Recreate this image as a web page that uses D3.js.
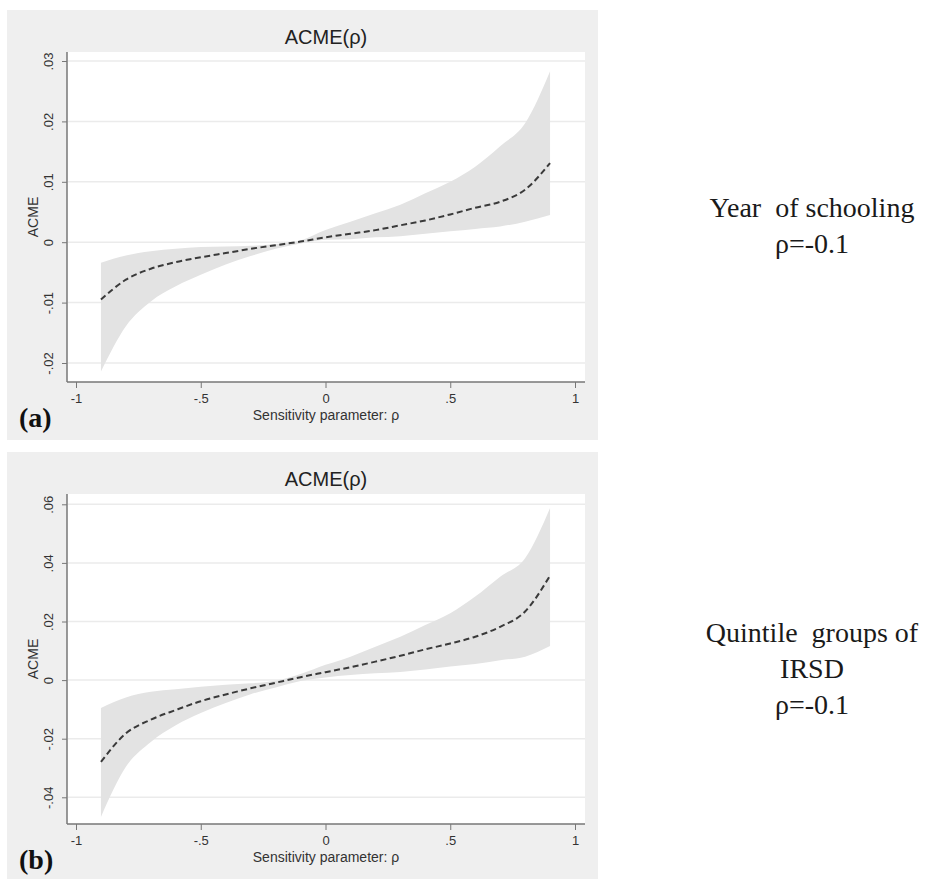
<!DOCTYPE html>
<html>
<head>
<meta charset="utf-8">
<script src="https://cdn.jsdelivr.net/npm/d3@7"></script>
<style>
  body { margin: 0; background: #fff; }
  svg { display: block; }
</style>
</head>
<body>
<svg id="chart" width="929" height="879"></svg>
<script>
// sensitivity parameter grid
const rho = [-0.9, -0.8, -0.7, -0.6, -0.5, -0.4, -0.3, -0.2, -0.1, 0, 0.1, 0.2, 0.3, 0.4, 0.5, 0.6, 0.7, 0.8, 0.9]
const xTicks = [-1, -0.5, 0, 0.5, 1]

// (a) year of schooling
const acmeA = [-0.0095, -0.0062, -0.0044, -0.0033, -0.0025, -0.0018, -0.0011, -0.0005, 0.0001, 0.0008, 0.0014, 0.0020, 0.0028, 0.0036, 0.0046, 0.0057, 0.0067, 0.0087, 0.0131]
const upperA = [-0.0034, -0.0022, -0.0015, -0.0011, -0.0008, -0.0007, -0.0006, -0.0003, 0.0003, 0.0020, 0.0034, 0.0048, 0.0062, 0.0081, 0.0100, 0.0125, 0.0159, 0.0197, 0.0283]
const lowerA = [-0.0214, -0.0139, -0.0098, -0.0073, -0.0054, -0.0037, -0.0023, -0.0011, -0.0002, 0.0004, 0.0005, 0.0008, 0.0010, 0.0014, 0.0018, 0.0022, 0.0026, 0.0034, 0.0045]
const yTicksA = [-0.02, -0.01, 0, 0.01, 0.02, 0.03]
const notesA = ['Year  of schooling', 'ρ=-0.1']

// (b) quintile groups of IRSD
const acmeB = [-0.0279, -0.0182, -0.0135, -0.0102, -0.0072, -0.0049, -0.0028, -0.0009, 0.0010, 0.0027, 0.0044, 0.0063, 0.0083, 0.0105, 0.0125, 0.0148, 0.0182, 0.0234, 0.0357]
const upperB = [-0.0095, -0.0059, -0.0040, -0.0031, -0.0023, -0.0016, -0.0011, -0.0002, 0.0021, 0.0052, 0.0080, 0.0114, 0.0148, 0.0188, 0.0228, 0.0285, 0.0353, 0.0416, 0.0587]
const lowerB = [-0.0467, -0.0296, -0.0211, -0.0154, -0.0112, -0.0078, -0.0048, -0.0025, -0.0003, 0.0009, 0.0017, 0.0023, 0.0028, 0.0036, 0.0046, 0.0055, 0.0068, 0.0080, 0.0116]
const yTicksB = [-0.04, -0.02, 0, 0.02, 0.04, 0.06]
const notesB = ['Quintile  groups of', 'IRSD', 'ρ=-0.1']

const svg = d3.select('#chart')
const sans = 'Liberation Sans, Arial, sans-serif'
const serif = 'Liberation Serif, Times New Roman, serif'
const fmt = v => v === 0 ? '0' : String(+v.toFixed(2)).replace('0.', '.')

function drawPanel(cfg) {
    const g = svg.append('g').attr('transform', `translate(0,${cfg.top})`)
    const left = 67, right = 585, plotTop = 52, plotBottom = 382

    g.append('rect')
        .attr('x', 7).attr('y', 10)
        .attr('width', 591).attr('height', cfg.bgHeight)
        .attr('fill', '#efefef')
    g.append('rect')
        .attr('x', left).attr('y', plotTop)
        .attr('width', right - left).attr('height', plotBottom - plotTop)
        .attr('fill', '#fff')

    const x = d3.scaleLinear().domain([-1, 1]).range([76, 575])
    const y = d3.scaleLinear().domain(d3.extent(cfg.yTicks)).range(cfg.yRange)

    // gridlines
    g.selectAll('line.grid')
        .data(cfg.yTicks)
        .join('line')
        .attr('class', 'grid')
        .attr('x1', left + 1).attr('x2', right)
        .attr('y1', d => y(d)).attr('y2', d => y(d))
        .attr('stroke', '#ebebeb')
        .attr('stroke-width', 1.5)

    const pts = rho.map((r, i) => ({ r, m: cfg.acme[i], lo: cfg.lower[i], hi: cfg.upper[i] }))

    g.append('path')
        .datum(pts)
        .attr('d', d3.area().curve(d3.curveMonotoneX).x(d => x(d.r)).y0(d => y(d.lo)).y1(d => y(d.hi)))
        .attr('fill', '#e3e3e3')

    g.append('path')
        .datum(pts)
        .attr('d', d3.line().curve(d3.curveMonotoneX).x(d => x(d.r)).y(d => y(d.m)))
        .attr('fill', 'none')
        .attr('stroke', '#3a3a3a')
        .attr('stroke-width', 2)
        .attr('stroke-dasharray', '6,3.5')

    // x axis
    const xAxis = g.append('g')
        .attr('transform', `translate(0,${plotBottom})`)
        .call(d3.axisBottom(x).tickValues(xTicks).tickFormat(fmt).tickSize(6).tickPadding(6))
    xAxis.select('.domain').remove()
    xAxis.selectAll('line').attr('stroke', '#777')
    xAxis.selectAll('text')
        .attr('fill', '#333')
        .style('font-family', sans)
        .style('font-size', '13px')

    // y axis
    const yAxis = g.append('g')
        .attr('transform', `translate(${left},0)`)
        .call(d3.axisLeft(y).tickValues(cfg.yTicks).tickFormat(fmt).tickSize(5).tickPadding(2))
    yAxis.select('.domain').remove()
    yAxis.selectAll('line').attr('stroke', '#777')
    yAxis.selectAll('text')
        .attr('x', 0).attr('y', 0).attr('dy', null)
        .attr('transform', 'translate(-14,0) rotate(-90)')
        .attr('text-anchor', 'middle')
        .attr('fill', '#333')
        .style('font-family', sans)
        .style('font-size', '13px')

    g.append('line')
        .attr('x1', left).attr('x2', right)
        .attr('y1', plotBottom).attr('y2', plotBottom)
        .attr('stroke', '#777').attr('stroke-width', 1.5)
    g.append('line')
        .attr('x1', left).attr('x2', left)
        .attr('y1', plotTop).attr('y2', plotBottom)
        .attr('stroke', '#777').attr('stroke-width', 1.5)

    g.append('text')
        .attr('x', 326).attr('y', 44)
        .attr('text-anchor', 'middle')
        .attr('fill', '#222')
        .style('font-family', sans)
        .style('font-size', '20px')
        .text('ACME(ρ)')

    g.append('text')
        .attr('x', 326).attr('y', 420)
        .attr('text-anchor', 'middle')
        .attr('fill', '#333')
        .style('font-family', sans)
        .style('font-size', '14px')
        .text('Sensitivity parameter: ρ')

    g.append('text')
        .attr('transform', `translate(38,${(plotTop + plotBottom) / 2}) rotate(-90)`)
        .attr('text-anchor', 'middle')
        .attr('fill', '#333')
        .style('font-family', sans)
        .style('font-size', '14px')
        .text('ACME')

    g.append('text')
        .attr('x', 19).attr('y', 427)
        .attr('fill', '#111')
        .style('font-family', serif)
        .style('font-size', '28px')
        .style('font-weight', 'bold')
        .text(cfg.label)

    svg.append('g')
        .selectAll('text')
        .data(cfg.notes)
        .join('text')
        .attr('x', 812)
        .attr('y', (d, i) => cfg.noteY + i * 36)
        .attr('text-anchor', 'middle')
        .attr('fill', '#1a1a1a')
        .style('font-family', serif)
        .style('font-size', '28px')
        .style('white-space', 'pre')
        .text(d => d)
}

drawPanel({ top: 0, bgHeight: 430, yTicks: yTicksA, yRange: [363, 61],
    acme: acmeA, upper: upperA, lower: lowerA, label: '(a)', notes: notesA, noteY: 217 })
drawPanel({ top: 442, bgHeight: 440, yTicks: yTicksB, yRange: [355.3, 62.3],
    acme: acmeB, upper: upperB, lower: lowerB, label: '(b)', notes: notesB, noteY: 642 })
</script>
</body>
</html>
